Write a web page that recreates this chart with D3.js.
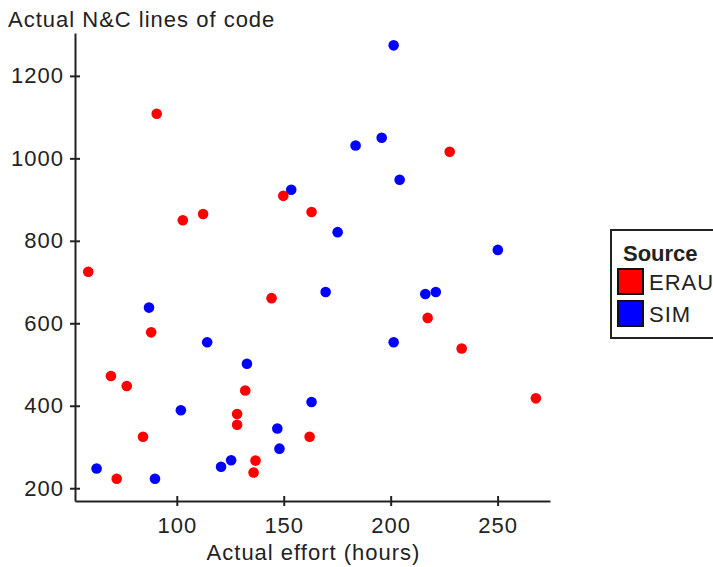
<!DOCTYPE html>
<html>
<head>
<meta charset="utf-8">
<script src="https://cdn.jsdelivr.net/npm/d3@7"></script>
<style>
  body { margin: 0; background: #fff; }
  text { font-family: "Liberation Sans", Arial, sans-serif; fill: #222; }
</style>
</head>
<body>
<div id="chartDiv"></div>
<script>
// data
const erauEffort = [58.6, 90.6, 102.8, 112.3, 149.8, 144.3, 88.0, 69.2, 76.6, 84.2, 71.9,
                    132.0, 128.2, 128.2, 136.8, 135.9, 267.9, 227.6, 163.0, 217.3, 233.2, 162.1];
const erauLoc = [725, 1108, 850, 865, 909, 661, 578, 472, 448, 325, 223,
                 437, 380, 354, 267, 238, 418, 1016, 870, 613, 539, 325];
const simEffort = [201.4, 195.8, 183.6, 204.2, 153.5, 175.2, 250.1, 169.6, 216.2, 221.1, 201.4,
                   87.0, 114.2, 132.8, 101.9, 62.5, 89.8, 120.7, 125.4, 147.0, 148.0, 163.0];
const simLoc = [1274, 1050, 1031, 948, 924, 821, 778, 676, 671, 676, 554,
                638, 554, 502, 389, 248, 223, 252, 268, 345, 296, 409];
const sources = ["ERAU", "SIM"];
const xTicks = [100, 150, 200, 250];
const yTicks = [200, 400, 600, 800, 1000, 1200];

const width = 713, height = 567;
const fontSize = 22;

const data = [
  ...erauEffort.map((e, i) => ({source: "ERAU", effort: e, loc: erauLoc[i]})),
  ...simEffort.map((e, i) => ({source: "SIM", effort: e, loc: simLoc[i]}))
];

const x = d3.scaleLinear().domain([52.4, 274.5]).range([75, 550]);
const y = d3.scaleLinear().domain([169, 1304]).range([501, 33]);
const color = d3.scaleOrdinal(sources, ["#ff0000", "#0000ff"]);

const svg = d3.create("svg")
    .attr("width", width)
    .attr("height", height);

// points: blue first, red on top
svg.append("g")
  .selectAll("circle")
  .data(data.slice().sort((a, b) => d3.descending(a.source, b.source)))
  .join("circle")
    .attr("cx", d => x(d.effort))
    .attr("cy", d => y(d.loc))
    .attr("r", 5.3)
    .attr("fill", d => color(d.source));

// axes
const xAxis = svg.append("g")
    .attr("transform", `translate(0,${y.range()[0]})`)
    .call(d3.axisBottom(x).tickValues(xTicks).tickFormat(d3.format("d")).tickSizeOuter(0));
xAxis.selectAll(".tick line").attr("y1", -5).attr("y2", 5);
xAxis.selectAll(".tick text").attr("y", 16);

const yAxis = svg.append("g")
    .attr("transform", `translate(${x.range()[0]},0)`)
    .call(d3.axisLeft(y).tickValues(yTicks).tickFormat(d3.format("d")).tickSizeOuter(0));
yAxis.selectAll(".tick line").attr("x1", -5).attr("x2", 5);
yAxis.selectAll(".tick text").attr("x", -11);

svg.selectAll(".domain").attr("stroke", "#222").attr("stroke-width", 2);
svg.selectAll(".tick line").attr("stroke", "#222").attr("stroke-width", 2);
svg.selectAll(".tick text")
    .attr("fill", "#222")
    .style("font-size", fontSize + "px")
    .style("letter-spacing", "1px")
    .style("font-family", "Liberation Sans, Arial, sans-serif");

// axis titles
svg.append("text")
    .attr("x", 8)
    .attr("y", 27)
    .style("font-size", fontSize + "px")
    .style("letter-spacing", "1px")
    .text("Actual N&C lines of code");

svg.append("text")
    .attr("x", (x.range()[0] + x.range()[1]) / 2 + 1)
    .attr("y", 560)
    .attr("text-anchor", "middle")
    .style("font-size", fontSize + "px")
    .style("letter-spacing", "1px")
    .text("Actual effort (hours)");

// legend
const legend = svg.append("g").attr("transform", "translate(611,230)");
legend.append("rect")
    .attr("width", 120).attr("height", 108)
    .attr("fill", "#fff").attr("stroke", "#222").attr("stroke-width", 2);
legend.append("text")
    .attr("x", 12).attr("y", 31)
    .style("font-size", fontSize + "px")
    .style("font-weight", "bold")
    .attr("fill", "#111")
    .text("Source");
const item = legend.selectAll(".item")
  .data(sources)
  .join("g")
    .attr("class", "item")
    .attr("transform", (d, i) => `translate(7,${39 + i * 32})`);
item.append("rect")
    .attr("width", 25).attr("height", 25)
    .attr("fill", d => color(d))
    .attr("stroke", "#111").attr("stroke-width", 2);
item.append("text")
    .attr("x", 31).attr("y", 21)
    .style("font-size", fontSize + "px")
    .style("letter-spacing", "1px")
    .text(d => d);

document.getElementById("chartDiv").appendChild(svg.node());
</script>
</body>
</html>
